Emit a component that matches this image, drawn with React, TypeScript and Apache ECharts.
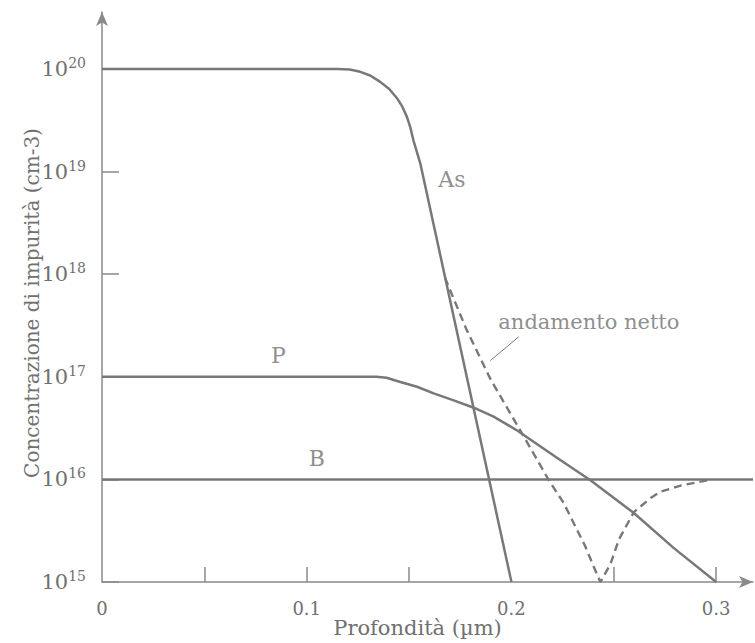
import React, { useEffect, useRef } from "react";
import * as echarts from "echarts";

// x axis: depth (µm)
const xTickValues = [0.05, 0.1, 0.15, 0.25, 0.3];
const xLabelValues = [0, 0.1, 0.2, 0.3];
// y axis: concentration (cm^-3), log scale
const yTickValues = [1e15, 1e16, 1e17, 1e18, 1e19, 1e20];

// Arsenic profile
const asProfile: [number, number][] = [
  [0, 1e20], [0.115, 1e20], [0.121, 9.9e19], [0.1262, 9.4e19], [0.131, 8.65e19],
  [0.1359, 7.5e19], [0.1403, 6.4e19], [0.1441, 5.2e19], [0.1467, 4.3e19],
  [0.149, 3.4e19], [0.1506, 2.7e19], [0.1522, 2.0e19], [0.1555, 1.2e19], [0.2, 1e15],
];

// Phosphorus profile
const pProfile: [number, number][] = [
  [0, 1e17], [0.134, 1e17], [0.139, 9.8e16], [0.1457, 8.9e16], [0.1539, 8.0e16],
  [0.162, 6.9e16], [0.1718, 5.9e16], [0.1816, 5.0e16], [0.1913, 4.1e16],
  [0.2028, 3.0e16], [0.2215, 1.66e16], [0.2386, 9.8e15], [0.2598, 4.7e15],
  [0.2792, 2.15e15], [0.3, 1e15],
];

// Boron background
const bProfile: [number, number][] = [[0, 1e16], [0.318, 1e16]];

// Net doping (dashed)
const netProfile: [number, number][] = [
  [0.1675, 9.3e17], [0.178, 2.9e17], [0.19, 9.3e16], [0.2052, 2.8e16],
  [0.2183, 9.8e15], [0.2255, 5.9e15], [0.236, 2.24e15], [0.2419, 1.17e15],
  [0.2435, 1e15], [0.2484, 1.5e15], [0.2525, 2.6e15], [0.2598, 4.8e15],
  [0.268, 6.6e15], [0.2729, 7.6e15], [0.2826, 8.7e15], [0.2957, 9.8e15],
];

// Leader line for "andamento netto"
const leaderLine: [number, number][] = [[0.1897, 1.44e17], [0.2036, 2.46e17]];

// Annotation texts and anchor points
const annotationNames = ["As", "P", "B", "andamento netto"];
const annotationPoints: [number, number][] = [
  [0.1643, 8.3e18], [0.0862, 1.63e17], [0.105, 1.6e16], [0.1936, 3.42e17],
];
const annotationPositions = ["right", "inside", "inside", "right"];

const FONT = "DejaVu Serif";
const TEXT = "#707070";
const LINE = "#787878";
const AXIS = "#8a8a8a";

export default function App() {
  const ref = useRef<HTMLDivElement>(null);
  useEffect(() => {
    if (!ref.current) return;
    const chart = echarts.init(ref.current, undefined, { renderer: "svg" });
    const lineSeries = (
      data: [number, number][],
      opts: { dashed?: boolean; width?: number } = {}
    ) => ({
      type: "line",
      data,
      showSymbol: false,
      symbol: "none",
      silent: true,
      lineStyle: { color: LINE, width: opts.width ?? 2.5, type: opts.dashed ? [8, 5] : "solid" },
    });
    chart.setOption({
      animation: false,
      grid: { left: 102, right: 2, top: 12, bottom: 61, containLabel: false, outerBoundsMode: "none" },
      xAxis: {
        type: "value",
        min: 0,
        max: 0.318,
        splitLine: { show: false },
        axisLine: {
          show: true,
          lineStyle: { color: AXIS, width: 1.5 },
          symbol: ["none", "arrow"],
          symbolSize: [9, 14],
        },
        axisTick: {
          show: true,
          inside: true,
          length: 15,
          customValues: xTickValues,
          lineStyle: { color: AXIS, width: 1.5 },
        },
        axisLabel: {
          customValues: xLabelValues,
          formatter: (v: number) => String(+v.toFixed(2)),
          margin: 17,
          fontSize: 18,
          color: TEXT,
          fontFamily: FONT,
        },
        name: "Profondità (µm)",
        nameLocation: "middle",
        nameGap: 35,
        nameMoveOverlap: false,
        nameTextStyle: { fontSize: 21, color: TEXT, fontFamily: FONT, padding: [0, 20, 0, 0] },
      },
      yAxis: {
        type: "log",
        logBase: 10,
        min: 1e15,
        max: 3.6e20,
        splitLine: { show: false },
        minorTick: { show: false },
        axisLine: {
          show: true,
          lineStyle: { color: AXIS, width: 1.5 },
          symbol: ["none", "arrow"],
          symbolSize: [9, 14],
        },
        axisTick: {
          show: true,
          inside: true,
          length: 17,
          customValues: yTickValues,
          lineStyle: { color: AXIS, width: 1.5 },
        },
        axisLabel: {
          customValues: yTickValues,
          margin: 16,
          formatter: (v: number) => `{b|10}{s|${Math.round(Math.log10(v))}}`,
          rich: {
            b: { fontSize: 21, fontFamily: FONT, color: TEXT, lineHeight: 26 },
            s: { fontSize: 14, fontFamily: FONT, color: TEXT, verticalAlign: "top", lineHeight: 14 },
          },
        },
        name: "Concentrazione di impurità (cm-3)",
        nameLocation: "middle",
        nameGap: 60,
        nameMoveOverlap: false,
        nameTextStyle: { fontSize: 20, color: TEXT, fontFamily: FONT, padding: [0, 12, 0, 0] },
      },
      series: [
        lineSeries(bProfile),
        lineSeries(pProfile),
        lineSeries(asProfile),
        lineSeries(netProfile, { dashed: true, width: 2.4 }),
        lineSeries(leaderLine, { width: 1 }),
        {
          type: "scatter",
          silent: true,
          symbolSize: 0,
          data: annotationPoints.map((p, i) => ({
            value: p,
            label: {
              show: true,
              formatter: annotationNames[i],
              position: annotationPositions[i],
              distance: 0,
              fontSize: i === 3 ? 21 : 22,
              color: TEXT,
              fontFamily: FONT,
            },
          })),
        },
      ],
    });
    return () => chart.dispose();
  }, []);
  return (
    <div
      ref={ref}
      style={{ position: "fixed", left: 0, top: 0, width: 755, height: 643, background: "#fff" }}
    />
  );
}
